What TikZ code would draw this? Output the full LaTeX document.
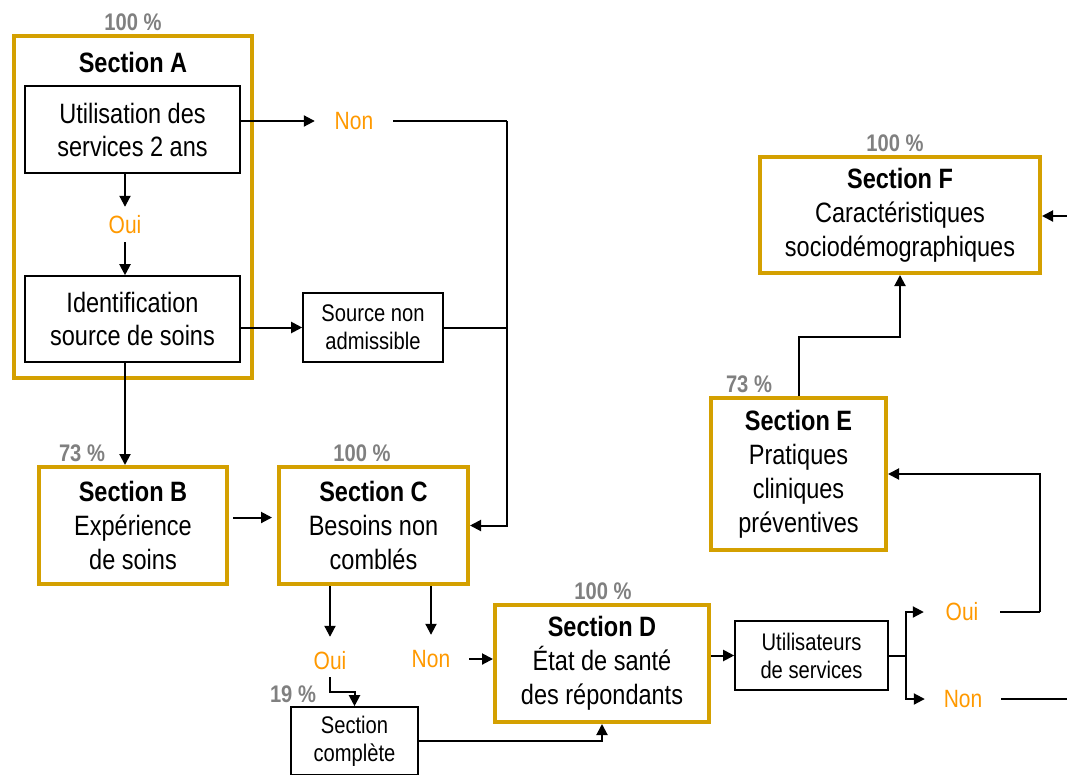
\documentclass[tikz,border=0pt]{standalone}
\usepackage{fontspec}
\setmainfont[FakeStretch=0.84]{Liberation Sans}
\usetikzlibrary{arrows.meta}

\definecolor{sectgold}{RGB}{212,160,0}
\definecolor{ouinon}{RGB}{255,153,0}
\definecolor{pctgray}{RGB}{128,128,128}

\tikzset{
  sect/.style={draw=sectgold, line width=4pt, align=center, inner sep=0pt, font=\fontsize{28}{34}\selectfont},
  qbox/.style={draw, line width=1.6pt, align=center, inner sep=0pt, font=\fontsize{28}{33}\selectfont},
  sbox/.style={draw, line width=1.6pt, align=center, inner sep=0pt, font=\fontsize{24}{28}\selectfont},
  rep/.style={text=ouinon, font=\fontsize{25}{30}\selectfont, minimum width=76pt, minimum height=32pt, inner sep=0pt},
  pct/.style={text=pctgray, font=\bfseries\fontsize{24}{28}\selectfont, anchor=base, inner sep=0pt},
  arr/.style={line width=2pt, -{Triangle[length=11pt,width=11pt]}},
  lien/.style={line width=2pt},
}

\begin{document}
\begin{tikzpicture}[x=1pt, y=-1pt]
    \useasboundingbox (0,0) rectangle (1067,774);

    % Section A
    \node[sect, minimum width=238pt, minimum height=342pt] (secA) at (133,207) {};
    \node[pct] (pctA) at (133,30) {100 \%};
    \node[font=\bfseries\fontsize{28}{34}\selectfont] (titA) at (133,62) {Section A};
    \node[qbox, minimum width=215pt, minimum height=87pt] (utilA) at (132.5,129.5) {Utilisation des\\services 2 ans};
    \node[rep, minimum height=35pt] (ouiA) at (125,224.5) {Oui};
    \node[qbox, minimum width=215pt, minimum height=86pt] (idA) at (132.5,319) {Identification\\source de soins};
    \draw[arr] (utilA.south -| ouiA) -- (ouiA.north);
    \draw[arr] (ouiA.south) -- (ouiA.south |- idA.north);

    % Non et source non admissible
    \node[rep, minimum width=78pt] (nonA) at (354,121) {Non};
    \node[sbox, minimum width=140pt, minimum height=69pt] (srcNA) at (373,327.5) {Source non\\admissible};
    \coordinate (busC) at (507,121);
    \draw[arr] (utilA.east |- nonA) -- (nonA.west);
    \draw[arr] (idA.east |- srcNA) -- (srcNA.west);
    \draw[lien] (nonA.east) -- (busC);
    \draw[lien] (srcNA.east) -- (srcNA -| busC);

    % Sections B et C
    \node[sect, minimum width=188pt, minimum height=117pt] (secB) at (133,525.5) {\textbf{Section B}\\Expérience\\de soins};
    \node[pct] (pctB) at (82,461) {73 \%};
    \node[sect, minimum width=189pt, minimum height=117pt] (secC) at (373.5,525.5) {\textbf{Section C}\\Besoins non\\comblés};
    \node[pct] (pctC) at (362,461) {100 \%};
    \draw[arr] (idA.south -| ouiA) -- (ouiA |- secB.north);
    \draw[arr, shorten <=4pt, shorten >=5pt] ([yshift=8pt]secB.east) -- ([yshift=8pt]secC.west);
    \draw[arr] (busC) |- (secC.east);

    % Reponses C
    \node[rep] (ouiC) at (330,661) {Oui};
    \node[rep] (nonC) at (431,659) {Non};
    \draw[arr, shorten >=8pt] (secC.south -| ouiC) -- (ouiC.north);
    \draw[arr, shorten >=8pt] (secC.south -| nonC) -- (nonC.north);

    % Section complete
    \node[sbox, minimum width=127pt, minimum height=68pt] (comp) at (354.5,741) {Section\\complète};
    \node[pct] (pctComp) at (293,702) {19 \%};
    \coordinate (jOC) at (330,692);
    \draw[arr] (ouiC.south) -- (jOC) -| (comp.north);

    % Section D
    \node[sect, minimum width=214pt, minimum height=117pt] (secD) at (602,663.5) {\textbf{Section D}\\État de santé\\des répondants};
    \node[pct] (pctD) at (603,599) {100 \%};
    \draw[arr] (nonC.east) -- (nonC -| secD.west);
    \draw[arr] (comp.east) -| (secD.south);

    % Utilisateurs de services
    \node[sbox, minimum width=153pt, minimum height=69pt] (utl) at (811.5,655.5) {Utilisateurs\\de services};
    \node[rep] (ouiU) at (962,612) {Oui};
    \node[rep] (nonU) at (963,699) {Non};
    \coordinate (fork) at (906,655.5);
    \draw[arr] (secD.east |- utl) -- (utl.west);
    \draw[lien] (utl.east) -- (fork);
    \draw[arr] (fork) |- (ouiU.west);
    \draw[arr] (fork) |- (nonU.west);

    % Sections E et F
    \node[sect, minimum width=175pt, minimum height=152pt] (secE) at (798.5,474) {\textbf{Section E}\\Pratiques\\cliniques\\préventives};
    \node[pct] (pctE) at (749,392) {73 \%};
    \node[sect, minimum width=280pt, minimum height=116pt] (secF) at (900,215) {\textbf{Section F}\\Caractéristiques\\sociodémographiques};
    \node[pct] (pctF) at (895,151) {100 \%};
    \coordinate (busE) at (1040,612);
    \coordinate (jEF) at (900,337);
    \coordinate (outR) at (1067,699);
    \coordinate (inR) at (1067,216);
    \draw[lien] (ouiU.east) -- (busE);
    \draw[arr] (busE) |- (secE.east);
    \draw[lien] (nonU.east) -- (outR);
    \draw[arr] (inR) -- (inR -| secF.east);
    \draw[arr] (secE.north) |- (jEF) -- (secF.south);
\end{tikzpicture}
\end{document}
